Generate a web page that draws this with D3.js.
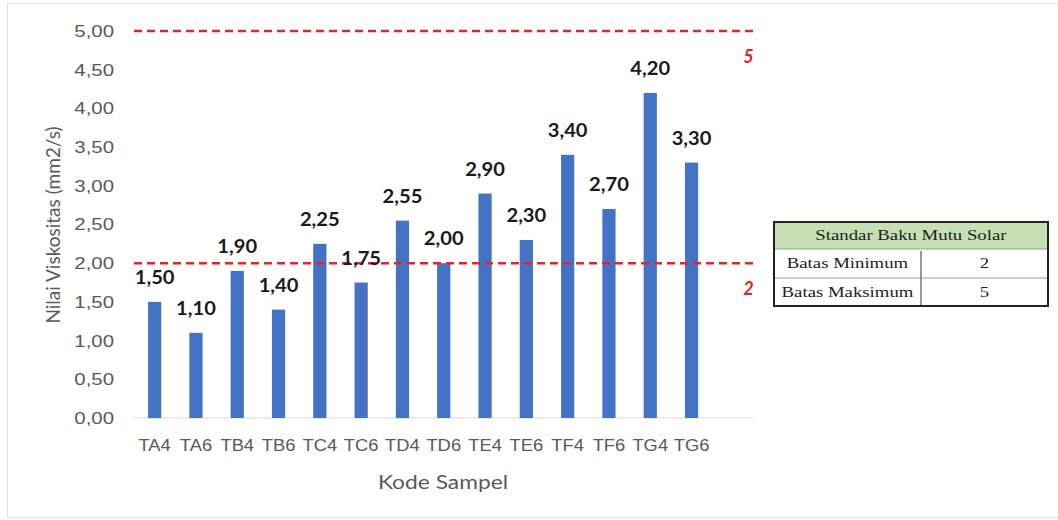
<!DOCTYPE html>
<html lang="en">
<head>
    <meta charset="UTF-8">
    <title>Nilai Viskositas per Kode Sampel</title>
    <script src="https://cdn.jsdelivr.net/npm/d3@7"></script>
</head>
<style>
    body { margin: 0; background: #fff; }
    svg { font-family: Lato, "Open Sans", sans-serif; }
    .tick text { fill: #595959; font-size: 17px; transform-box: fill-box; }
    .y-axis .tick text { transform: scaleX(1.2); transform-origin: right center; }
    .x-axis .tick text { transform: scaleX(1.08); transform-origin: center; }
    .axis-title { fill: #595959; font-size: 19px; }
    .x-title { transform: scaleX(1.2); transform-box: fill-box; transform-origin: center; }
    .value-label { font-size: 18px; font-weight: bold; fill: #1a1a1a;
        transform: scaleX(1.12); transform-box: fill-box; transform-origin: center; }
    .limit-label { font-size: 18px; font-weight: bold; font-style: italic; fill: #e3242b; }
    .tbl text { font-family: "Liberation Serif", "DejaVu Serif", serif; font-size: 14px; fill: #222;
        transform: scaleX(1.34); transform-box: fill-box; transform-origin: center; }
</style>
<body>
    <div id="graphDiv"></div>

    <script>
        // chart data
        const samples = ["TA4", "TA6", "TB4", "TB6", "TC4", "TC6", "TD4", "TD6", "TE4", "TE6", "TF4", "TF6", "TG4", "TG6"];
        const viscosity = [1.50, 1.10, 1.90, 1.40, 2.25, 1.75, 2.55, 2.00, 2.90, 2.30, 3.40, 2.70, 4.20, 3.30];
        const yTicks = [0, 0.5, 1, 1.5, 2, 2.5, 3, 3.5, 4, 4.5, 5];
        const limits = [2, 5];
        const tableRows = [["Batas Minimum", "2"], ["Batas Maksimum", "5"]];

        const width = 1058;
        const height = 520;
        const margin = {top: 31, left: 134, bottom: 102};

        const data = samples.map((s, i) => ({sample: s, value: viscosity[i]}));

        const svg = d3.select("#graphDiv").append("svg")
            .attr("width", width)
            .attr("height", height);

        // faint chart frame
        svg.append("rect")
            .attr("x", 7.5).attr("y", 3.5)
            .attr("width", 1060).attr("height", 514)
            .attr("fill", "none")
            .attr("stroke", "#e0e0e0");

        const step = 41.3;
        const x = d3.scaleBand()
            .domain(samples)
            .range([margin.left, margin.left + step * samples.length])
            .paddingInner(0.68)
            .paddingOuter(0.34);
        const plotRight = margin.left + step * (samples.length + 1);

        const y = d3.scaleLinear()
            .domain([0, 5])
            .range([418, margin.top]);

        // Y axis
        svg.append("g")
            .attr("class", "y-axis")
            .attr("transform", `translate(${margin.left},0)`)
            .call(d3.axisLeft(y).tickValues(yTicks).tickSize(0).tickPadding(20)
                .tickFormat(d => d.toFixed(2).replace(".", ",")))
            .call(g => g.select(".domain").remove());

        // X axis
        svg.append("g")
            .attr("class", "x-axis")
            .attr("transform", `translate(0,${y(0)})`)
            .call(d3.axisBottom(x).tickSize(0).tickPadding(21))
            .call(g => g.select(".domain").remove());

        svg.append("line")
            .attr("x1", margin.left).attr("x2", plotRight)
            .attr("y1", y(0)).attr("y2", y(0))
            .attr("stroke", "#d9d9d9");

        // Bars
        svg.append("g")
            .selectAll("rect")
            .data(data)
            .join("rect")
            .attr("x", d => x(d.sample))
            .attr("y", d => y(d.value))
            .attr("width", x.bandwidth())
            .attr("height", d => y(0) - y(d.value))
            .attr("fill", "#4472c4");

        // Limit lines
        svg.append("g")
            .selectAll("line")
            .data(limits)
            .join("line")
            .attr("x1", margin.left).attr("x2", plotRight)
            .attr("y1", d => y(d)).attr("y2", d => y(d))
            .attr("stroke", "#e3242b")
            .attr("stroke-width", 2.5)
            .attr("stroke-dasharray", "8,5");

        svg.append("g")
            .selectAll("text")
            .data(limits)
            .join("text")
            .attr("class", "limit-label")
            .attr("x", plotRight - 5)
            .attr("y", d => y(d) + 32)
            .attr("text-anchor", "middle")
            .text(d => d);

        // Value labels
        svg.append("g")
            .selectAll("text")
            .data(data)
            .join("text")
            .attr("class", "value-label")
            .attr("x", d => x(d.sample) + x.bandwidth() / 2)
            .attr("y", d => y(d.value) - 18)
            .attr("text-anchor", "middle")
            .text(d => d.value.toFixed(2).replace(".", ","));

        // Axis titles
        svg.append("text")
            .attr("class", "axis-title x-title")
            .attr("x", 443)
            .attr("y", 489)
            .attr("text-anchor", "middle")
            .text("Kode Sampel");

        svg.append("text")
            .attr("class", "axis-title")
            .attr("text-anchor", "middle")
            .attr("transform", `translate(60,225)rotate(-90)`)
            .text("Nilai Viskositas (mm2/s)");

        // Standard table
        const tbl = svg.append("g").attr("class", "tbl");
        const tx = 774, ty = 222, tw = 274, rh = [27, 29, 28], colX = 921;

        tbl.append("rect")
            .attr("x", tx).attr("y", ty)
            .attr("width", tw).attr("height", rh[0])
            .attr("fill", "#c6e0b4");
        tbl.append("text")
            .attr("x", tx + tw / 2).attr("y", ty + 18)
            .attr("text-anchor", "middle")
            .text("Standar Baku Mutu Solar");

        let rowY = ty + rh[0];
        tableRows.forEach((r, i) => {
            const h = rh[i + 1];
            tbl.append("line")
                .attr("x1", tx).attr("x2", tx + tw)
                .attr("y1", rowY).attr("y2", rowY)
                .attr("stroke", "#999");
            tbl.append("text")
                .attr("x", (tx + colX) / 2).attr("y", rowY + h / 2 + 5)
                .attr("text-anchor", "middle")
                .text(r[0]);
            tbl.append("text")
                .attr("x", (colX + tx + tw) / 2).attr("y", rowY + h / 2 + 5)
                .attr("text-anchor", "middle")
                .text(r[1]);
            rowY += h;
        });

        tbl.append("line")
            .attr("x1", colX).attr("x2", colX)
            .attr("y1", ty + rh[0] + 2).attr("y2", rowY)
            .attr("stroke", "#777")
            .attr("stroke-width", 1.5);

        tbl.append("rect")
            .attr("x", tx).attr("y", ty)
            .attr("width", tw).attr("height", rowY - ty)
            .attr("fill", "none")
            .attr("stroke", "#222")
            .attr("stroke-width", 2);
    </script>
</body>
</html>
